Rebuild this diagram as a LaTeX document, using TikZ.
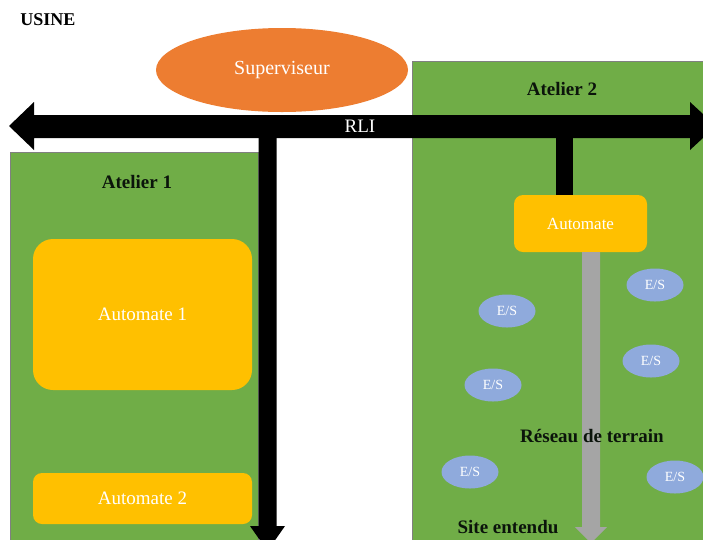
\documentclass[tikz,border=0pt]{standalone}
\usepackage{fontspec}
\setmainfont{Liberation Serif}
\usetikzlibrary{shapes.geometric}
\definecolor{grn}{HTML}{70AD47}
\definecolor{orng}{HTML}{ED7D31}
\definecolor{ylw}{HTML}{FFC000}
\definecolor{esblue}{HTML}{8FAADC}
\definecolor{gry}{HTML}{A5A5A5}
\definecolor{dark}{HTML}{0B140B}
\begin{document}
\begin{tikzpicture}[x=1pt,y=-1pt,
  atelier/.style={draw=gray, line width=0.6pt, fill=grn, inner sep=0pt, anchor=north west},
  plc/.style={fill=ylw, inner sep=0pt, text=white, font=\fontsize{19}{22}\selectfont},
  es/.style={ellipse, fill=esblue, inner sep=0pt, minimum width=57pt, minimum height=33pt, text=white, font=\fontsize{14}{16}\selectfont},
  title/.style={font=\fontsize{19}{22}\selectfont\bfseries, text=dark, inner sep=0pt},
  bus/.style={fill=black},
  fbus/.style={fill=gry}]
\useasboundingbox (0,0) rectangle (703,539);
\clip (0,0) rectangle (703,539);
\fill[white] (0,0) rectangle (703,539);

% workshops
\node[atelier, minimum width=248pt, minimum height=400pt] (at1) at (10,152) {};
\node[atelier, minimum width=300pt, minimum height=490pt] (at2) at (412,61) {};

% supervisor
\node[ellipse, fill=orng, minimum width=252pt, minimum height=84pt, inner sep=0pt,
      text=white, font=\fontsize{20}{22}\selectfont] (sup) at (282,70) {Superviseur};

\node[title, font=\fontsize{18}{20}\selectfont\bfseries, text=black] (usine) at (48,19.5) {USINE};
\node[title] (t2) at (562,89) {Atelier 2};
\node[title] (t1) at (137,182) {Atelier 1};

% RLI bus
\coordinate (lt) at (9,126);
\coordinate (rt) at (716,126);
\fill[bus] (lt) -- (34,102) -- (34,115) -- (690,115) -- (690,102) -- (rt) -- (690,150) -- (690,138) -- (34,138) -- (34,150) -- cycle;
\node[text=white, font=\fontsize{19}{22}\selectfont, inner sep=0pt] (rli) at (360,126) {RLI};

% PLCs
\node[plc, rounded corners=20pt, minimum width=219pt, minimum height=151pt] (a1) at (142.5,314.5) {Automate 1};
\node[plc, rounded corners=9pt, minimum width=219pt, minimum height=51pt] (a2) at (142.5,498.5) {Automate 2};
\node[plc, rounded corners=9pt, minimum width=133pt, minimum height=57pt, font=\fontsize{17}{20}\selectfont] (a3) at (580.5,223.5) {Automate};

% vertical bus down in workshop 1
\coordinate (vtip) at (267.5,551);
\fill[bus] (258.5,138) -- (276.5,138) -- (276.5,526) -- (285,526) -- (vtip) -- (250,526) -- (258.5,526) -- cycle;

% link workshop 2 PLC to RLI
\fill[bus] (556,137) rectangle (a3.north -| 573,0);

% field bus
\coordinate (gtip) at (591,543);
\fill[fbus] (582,252) -- (600,252) -- (600,527) -- (607,527) -- (gtip) -- (575,527) -- (582,527) -- cycle;

% I/O
\node[es] (es1) at (655,285) {E/S};
\node[es] (es2) at (507,311) {E/S};
\node[es] (es3) at (651,361) {E/S};
\node[es] (es4) at (493,385) {E/S};
\node[es] (es5) at (470,472) {E/S};
\node[es] (es6) at (675,477) {E/S};

\node[title] (rt1) at (592,436) {Réseau de terrain};
\node[title] (site) at (508,527) {Site entendu};
\end{tikzpicture}
\end{document}
